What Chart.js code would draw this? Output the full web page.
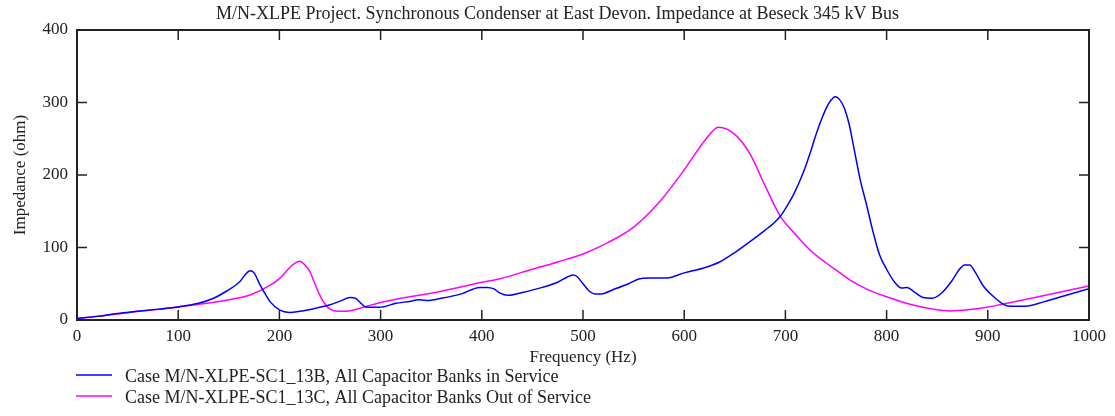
<!DOCTYPE html>
<html>
<head>
<meta charset="utf-8">
<script src="https://cdn.jsdelivr.net/npm/chart.js@4/dist/chart.umd.min.js"></script>
<style>
  html, body { margin: 0; padding: 0; background: #ffffff; }
  #wrap { width: 1115px; height: 416px; position: relative; }
</style>
</head>
<body>
<div id="wrap"><canvas id="c" width="1115" height="416"></canvas></div>
<script>
// ---- Data ----
const chartTitle = "M/N-XLPE Project. Synchronous Condenser at East Devon. Impedance at Beseck 345 kV Bus";
const xTitle = "Frequency (Hz)";
const yTitle = "Impedance (ohm)";
const seriesLabels = [
  "Case M/N-XLPE-SC1_13B, All Capacitor Banks in Service",
  "Case M/N-XLPE-SC1_13C, All Capacitor Banks Out of Service"
];
const seriesColors = ["#0000ff", "#ff00ff"];

// Series B (capacitor banks in service)
const freqB = [0,20,40,60,80,100,120,135,148,161,166,171,175,181,186,191,200,210,220,235,250,260,270,275,280,285,299,315,330,337,345,360,380,398,405,412,418,426,440,460,475,484,490,494,500,506,512,518,530,545,556,565,583,600,620,635,650,665,680,688,695,702,708,714,720,726,731,736,741,745,749,753,758,763,768,774,780,786,793,800,808,815,820,828,836,845,855,865,872,877,882,888,895,905,915,922,937,955,975,1000];
const impB  = [2,5,9,12,15,18,23,30,40,53,62,68,65,48,36,25,14,10.5,12,16,21,26,31,30,24,18,17.5,23,26,28,27,30,36,45,45,43,37,34,38,45,52,59,62,60,50,40,36,36,42,50,57,58,58,65,72,80,93,108,124,133,143,158,173,191,212,237,259,278,294,303,308,305,293,270,235,193,160,125,90,70,52,44,45,38,31,30,38,55,70,76,76,65,48,33,22,19,19,25,33,43];

// Series C (capacitor banks out of service)
const freqC = [0,50,100,150,171,191,200,208,214,220,225,230,235,240,245,250,258,266,286,300,320,350,400,418,450,475,500,525,550,575,600,620,634,650,665,680,695,710,724,740,750,764,780,800,825,846,863,880,899,915,950,1000];
const impC  = [2,10,18,28,34.5,48,57,69,77,81,76,67,50,34,22,15,12,12,19,24,30,37,52,57,70,80,91,107,128,162,207,247,266,256,229,185,143,118,97,79,69,55,43,32,21,15,12.5,14,17.5,22,32,47];

// Axis ranges / ticks
const xMin = 0, xMax = 1000, xStep = 100;
const yMin = 0, yMax = 400, yStep = 100;

// ---- Chart ----
const FONT = "'Liberation Serif', 'Times New Roman', serif";
const TEXT = "#222222";

const toPoints = (xs, ys) => xs.map((x, i) => ({ x: x, y: ys[i] }));

const frameTicks = {
  id: 'frameTicks',
  afterDatasetsDraw(chart) {
    const { ctx, chartArea: { left, right, top, bottom }, scales: { x, y } } = chart;
    ctx.save();
    ctx.strokeStyle = '#222';
    ctx.lineWidth = 1.5;
    ctx.beginPath();
    x.ticks.forEach((t, i) => {
      const px = x.getPixelForTick(i);
      ctx.moveTo(px, bottom); ctx.lineTo(px, bottom - 10);
      ctx.moveTo(px, top); ctx.lineTo(px, top + 10);
    });
    y.ticks.forEach((t, i) => {
      const py = y.getPixelForTick(i);
      ctx.moveTo(left, py); ctx.lineTo(left + 10, py);
      ctx.moveTo(right, py); ctx.lineTo(right - 10, py);
    });
    ctx.stroke();
    ctx.lineWidth = 2;
    ctx.strokeRect(left, top, right - left, bottom - top);
    ctx.restore();
  }
};

const leftLegend = {
  id: 'leftLegend',
  afterDraw(chart) {
    const { ctx } = chart;
    const rows = [376, 397];
    ctx.save();
    ctx.font = "18px " + FONT;
    ctx.textBaseline = 'middle';
    ctx.textAlign = 'left';
    chart.data.datasets.forEach((ds, i) => {
      const yy = rows[i];
      ctx.strokeStyle = ds.borderColor;
      ctx.lineWidth = 1.5;
      ctx.beginPath();
      ctx.moveTo(76, yy - 1); ctx.lineTo(112, yy - 1);
      ctx.stroke();
      ctx.fillStyle = TEXT;
      ctx.fillText(ds.label, 125, yy + 1);
    });
    ctx.restore();
  }
};

new Chart(document.getElementById('c'), {
  type: 'scatter',
  data: {
    datasets: [
      { label: seriesLabels[0], data: toPoints(freqB, impB), borderColor: seriesColors[0], backgroundColor: seriesColors[0],
        showLine: true, pointRadius: 0, borderWidth: 1.5, cubicInterpolationMode: 'monotone', fill: false },
      { label: seriesLabels[1], data: toPoints(freqC, impC), borderColor: seriesColors[1], backgroundColor: seriesColors[1],
        showLine: true, pointRadius: 0, borderWidth: 1.5, cubicInterpolationMode: 'monotone', fill: false }
    ]
  },
  options: {
    responsive: false,
    animation: false,
    devicePixelRatio: 1,
    layout: { padding: { left: 0, right: 0, top: 0, bottom: 48 } },
    plugins: {
      legend: { display: false },
      tooltip: { enabled: false },
      title: {
        display: true, text: chartTitle, color: TEXT,
        font: { family: FONT, size: 18, weight: 'normal', lineHeight: 1.2 },
        padding: { top: 3, bottom: 5.4 }
      }
    },
    scales: {
      x: {
        type: 'linear', min: xMin, max: xMax,
        ticks: { stepSize: xStep, color: TEXT, padding: 6, font: { family: FONT, size: 17 },
                 callback: (v) => String(v) },
        grid: { display: true, drawOnChartArea: false, drawTicks: false },
        border: { display: false },
        title: { display: true, text: xTitle, color: TEXT, font: { family: FONT, size: 17 }, padding: { top: 0, bottom: 0 } },
        afterFit: (s) => { s.height = 48; }
      },
      y: {
        type: 'linear', min: yMin, max: yMax,
        ticks: { stepSize: yStep, color: TEXT, padding: 9, font: { family: FONT, size: 17 },
                 callback: (v) => String(v) },
        grid: { display: true, drawOnChartArea: false, drawTicks: false },
        border: { display: false },
        title: { display: true, text: yTitle, color: TEXT, font: { family: FONT, size: 17 }, padding: { top: 10, bottom: 0 } },
        afterFit: (s) => { s.width = 77; }
      },
      yRight: {
        type: 'linear', position: 'right', min: yMin, max: yMax,
        ticks: { display: false },
        grid: { display: false, drawTicks: false },
        border: { display: false },
        afterFit: (s) => { s.width = 26; }
      }
    }
  },
  plugins: [frameTicks, leftLegend]
});
</script>
</body>
</html>
